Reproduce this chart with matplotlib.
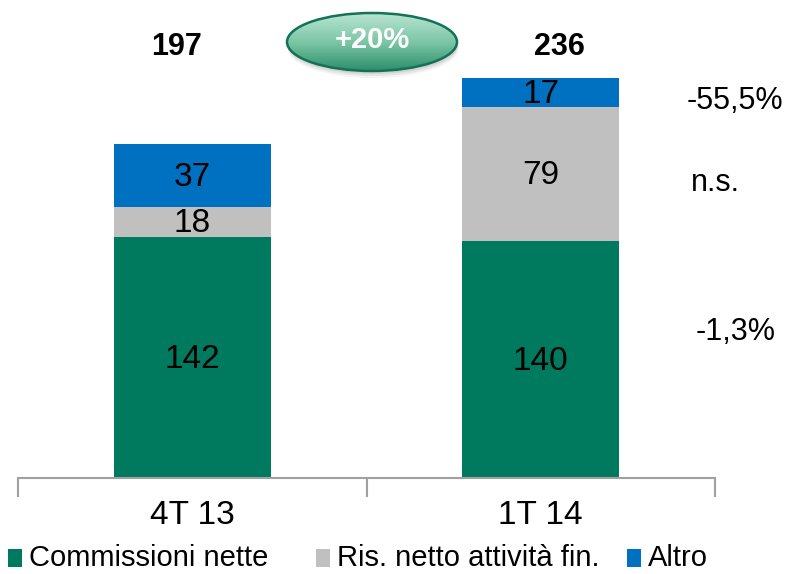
import matplotlib
matplotlib.use("Agg")
import matplotlib.pyplot as plt
import numpy as np
from matplotlib.patches import Ellipse, Rectangle
from matplotlib.colors import LinearSegmentedColormap

plt.rcParams['font.family'] = ['Liberation Sans', 'DejaVu Sans']

# dati
categorie = ['4T 13', '1T 14']
serie = ['Commissioni nette', 'Ris. netto attività fin.', 'Altro']
commissioni = [142, 140]
ris_netto = [18, 79]
altro = [37, 17]
totali = [197, 236]
variazioni = ['-1,3%', 'n.s.', '-55,5%']
crescita = '+20%'

colori = ['#007A5E', '#C0C0C0', '#0070C0']

W, H = 788, 574
fig = plt.figure(figsize=(W / 100, H / 100), dpi=100)
ax = fig.add_axes([18 / W, (H - 478) / H, (715 - 18) / W, 478 / H])

x = np.arange(len(categorie))
width = 0.45
valori = [commissioni, ris_netto, altro]
bottom = np.zeros(len(categorie))
for vals, col in zip(valori, colori):
    ax.bar(x, vals, width, bottom=bottom, color=col)
    for xi, b, v in zip(x, bottom, vals):
        ax.text(xi, b + v / 2 - 1, str(v), ha='center', va='center', fontsize=24, color='black')
    bottom += np.array(vals)

ax.set_xlim(-0.5, 1.5)
ax.set_ylim(0, 478 / 1.695)

for s in ['top', 'right', 'left']:
    ax.spines[s].set_visible(False)
ax.spines['bottom'].set_color('#A0A0A0')
ax.spines['bottom'].set_linewidth(1.5)
ax.set_yticks([])
ax.set_xticks([-0.5, 0.5, 1.5])
ax.set_xticklabels([])
ax.tick_params(axis='x', which='major', length=14, width=1.5, color='#A0A0A0')
ax.set_xticks(x, minor=True)
ax.set_xticklabels(categorie, minor=True, fontsize=24)
ax.tick_params(axis='x', which='minor', length=0, pad=16)

# totali
offs = [-0.045, 0.055]
for xi, t, o in zip(x, totali, offs):
    ax.text(xi + o, 254, str(t), ha='center', va='center', fontsize=22, fontweight='bold')

# variazioni a destra
pos_y = [332, 183, 101]
pos_x = [736, 715, 735]
for txt, px, py in zip(variazioni, pos_x, pos_y):
    fig.text(px / W, 1 - py / H, txt, ha='center', va='center', fontsize=22)

# ellisse +20%
ov = fig.add_axes([0, 0, 1, 1])
ov.axis('off')
ov.patch.set_alpha(0)
cx, cy, ew, eh = 372, 42, 170, 58
for k, a in [(7, 0.08), (5, 0.12), (3, 0.15)]:
    ov.add_patch(Ellipse((cx + 1, cy + k), ew, eh, facecolor='#777777', edgecolor='none', alpha=a))
ell = Ellipse((cx, cy), ew, eh, facecolor='none', edgecolor='#137256', linewidth=1.8, zorder=3)
ov.add_patch(ell)
grad = np.linspace(0, 1, 100).reshape(-1, 1)
cmap = LinearSegmentedColormap.from_list('g', ['#B8E4D2', '#7CC6A6', '#2E8F6C'])
im = ov.imshow(grad, cmap=cmap, aspect='auto',
               extent=[cx - ew / 2, cx + ew / 2, cy + eh / 2, cy - eh / 2], zorder=2)
im.set_clip_path(Ellipse((cx, cy), ew, eh, transform=ov.transData))
ov.set_xlim(0, W)
ov.set_ylim(H, 0)
ov.text(cx, cy - 2, crescita, ha='center', va='center', fontsize=21, fontweight='bold',
        color='white', zorder=4)

# legenda (posizionata a mano)
leg_x = [8, 316, 627]
leg_y = 558
for lx, nome, col in zip(leg_x, serie, colori):
    ov.add_patch(Rectangle((lx, leg_y - 9), 14, 18, facecolor=col, edgecolor='none'))
    ov.text(lx + 21, leg_y, nome, ha='left', va='center', fontsize=21)

fig.savefig('out.png', dpi=100)
